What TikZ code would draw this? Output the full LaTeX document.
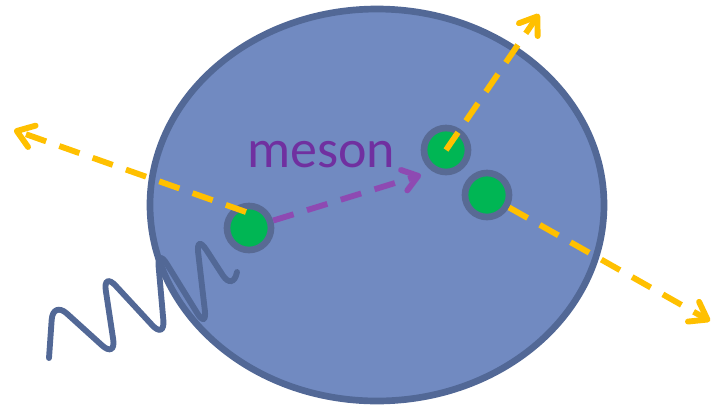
\documentclass[tikz,border=0pt]{standalone}
\usepackage{fontspec}
\newfontfamily\labelfont{Carlito}
\usepackage{tikz}
\usetikzlibrary{arrows.meta,positioning}
\usepackage{xcolor}
\definecolor{nucleusfill}{RGB}{113,138,193}
\definecolor{nucleusedge}{RGB}{82,104,150}
\definecolor{quarkgreen}{RGB}{0,182,84}
\definecolor{quarkedge}{RGB}{88,106,148}
\definecolor{jetyellow}{RGB}{255,192,0}
\definecolor{mesontext}{RGB}{112,48,160}
\definecolor{mesonline}{RGB}{142,74,178}

\begin{document}
\begin{tikzpicture}[x=0.75pt, y=-0.75pt,
    quark/.style={circle, draw=quarkedge, line width=5pt, fill=quarkgreen,
                  minimum size=33pt, inner sep=0pt},
    jet/.style={jetyellow, line width=4.4pt, dash pattern=on 16pt off 10.5pt,
                -{Straight Barb[length=12pt, width=17pt, round]}},
    mesonarr/.style={mesonline, line width=4.4pt, dash pattern=on 16pt off 10.5pt,
                -{Straight Barb[length=11pt, width=16pt, round]}},
    photon/.style={nucleusedge, line width=4.4pt, rounded corners=14pt, line cap=round}]

    \useasboundingbox (0,0) rectangle (714,405);

    % nucleus
    \draw[nucleusedge, fill=nucleusfill, line width=5pt]
        (377,205) ellipse [x radius=227, y radius=196];

    % incoming photon
    \draw[photon] (49,358) -- (53,301) -- (116,358) -- (103,272) -- (165,339)
        -- (157,248) -- (207,329) -- (196,234) -- (233,291) -- (237,272);

    % quarks
    \node[quark] (q1) at (249,228) {};
    \node[quark] (q2) at (446,150) {};
    \node[quark] (q3) at (487,195) {};

    % meson
    \coordinate (mtip) at (421,175);
    \draw[mesonarr] (q1) -- (mtip);
    \node[anchor=base west, inner sep=0pt, text=mesontext,
          font=\labelfont\fontsize{40.5}{48}\selectfont] (meson) at (247,167) {meson};

    % outgoing jets
    \coordinate (s1) at (246,212);
    \coordinate (e1) at (14,130);
    \coordinate (e2) at (539,14);
    \coordinate (e3) at (710,321);
    \draw[jet] (s1) -- (e1);
    \draw[jet] (q2.center) -- (e2);
    \draw[jet] (q3) -- (e3);
\end{tikzpicture}
\end{document}
